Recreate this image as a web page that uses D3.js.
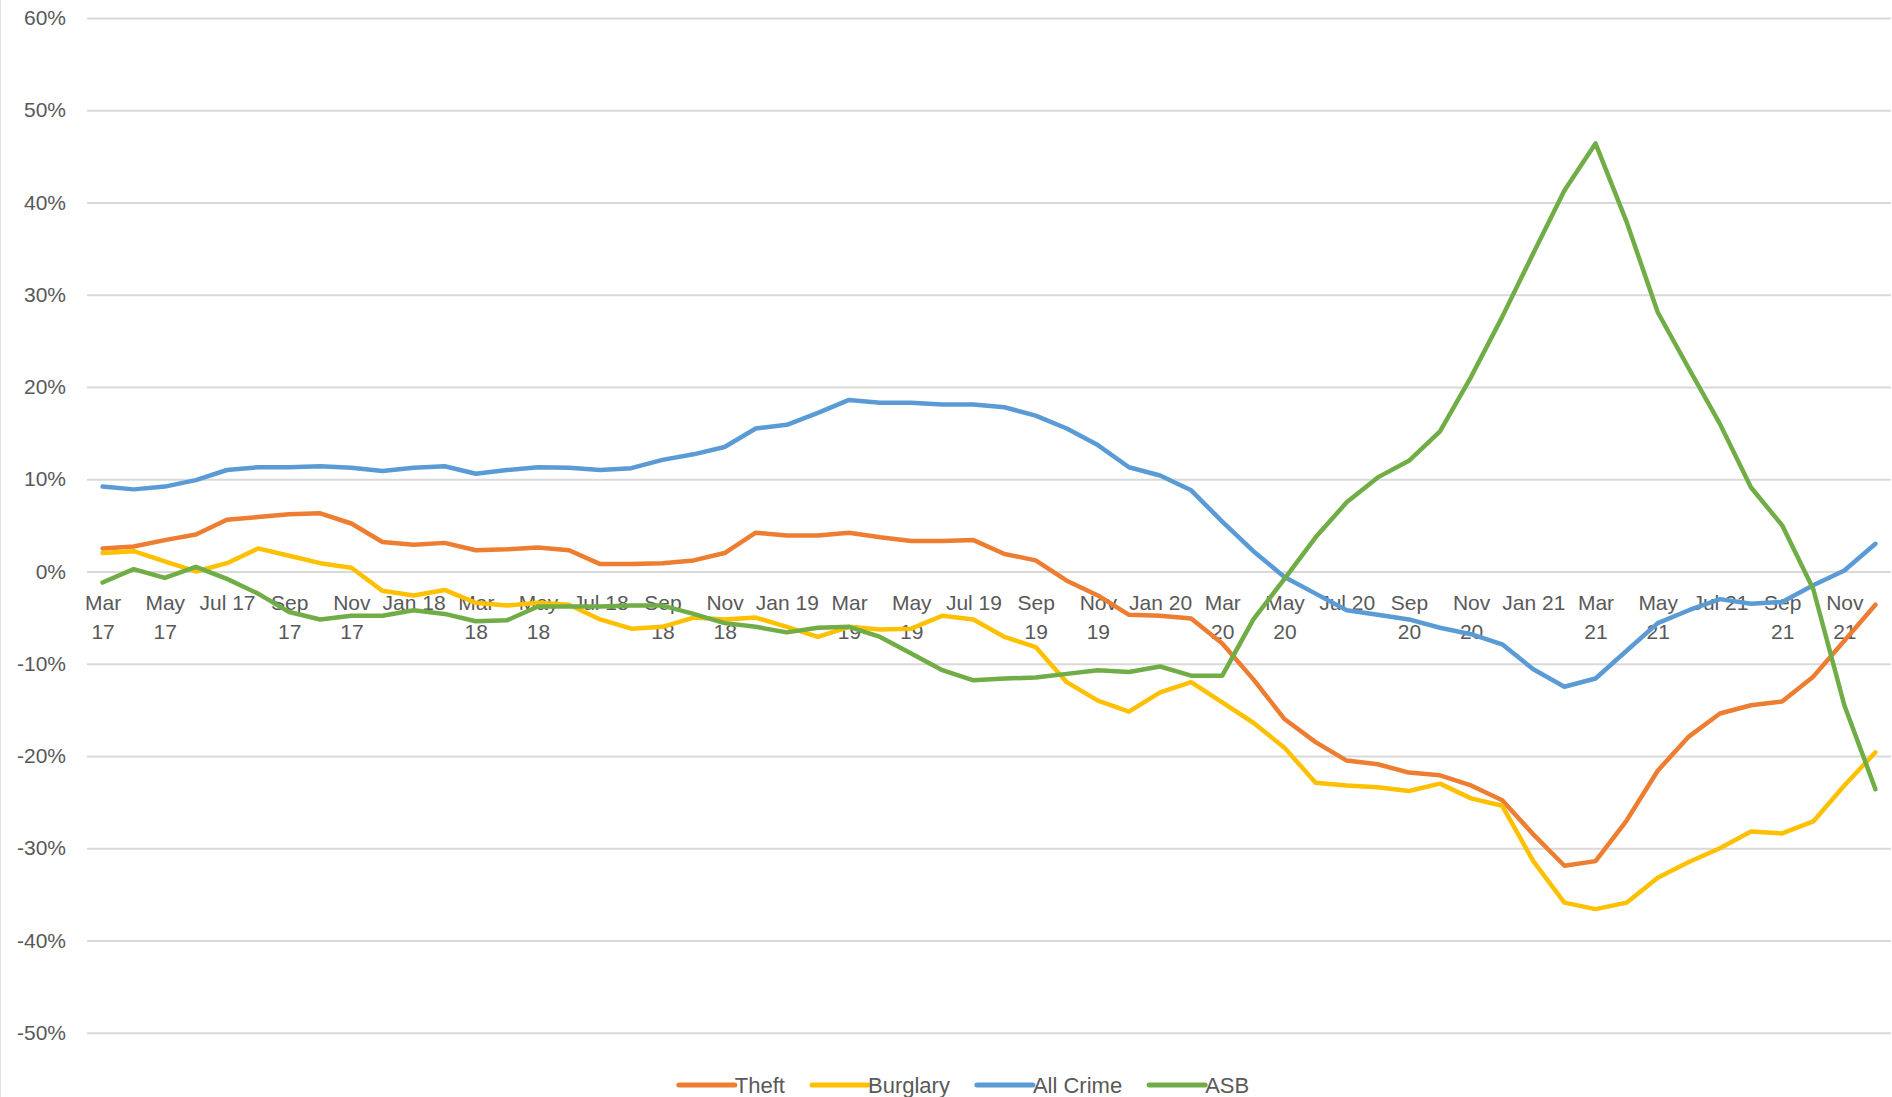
<!DOCTYPE html>
<html>
<head>
<meta charset="utf-8">
<script src="https://cdn.jsdelivr.net/npm/d3@7"></script>
<style>
  html, body { margin: 0; padding: 0; background: #fff; }
  svg { display: block; font-family: "Liberation Sans", Arial, sans-serif; }
</style>
</head>
<body>
<div class="crime-chart"></div>
<script>
// months Mar 2017 - Dec 2021
var months = [
  "Mar 17", "Apr 17", "May 17", "Jun 17", "Jul 17", "Aug 17", "Sep 17", "Oct 17", "Nov 17", "Dec 17",
  "Jan 18", "Feb 18", "Mar 18", "Apr 18", "May 18", "Jun 18", "Jul 18", "Aug 18", "Sep 18", "Oct 18",
  "Nov 18", "Dec 18", "Jan 19", "Feb 19", "Mar 19", "Apr 19", "May 19", "Jun 19", "Jul 19", "Aug 19",
  "Sep 19", "Oct 19", "Nov 19", "Dec 19", "Jan 20", "Feb 20", "Mar 20", "Apr 20", "May 20", "Jun 20",
  "Jul 20", "Aug 20", "Sep 20", "Oct 20", "Nov 20", "Dec 20", "Jan 21", "Feb 21", "Mar 21", "Apr 21",
  "May 21", "Jun 21", "Jul 21", "Aug 21", "Sep 21", "Oct 21", "Nov 21", "Dec 21"
];

// shown every second month, wrapped the way the original wraps them
var tickLabels = [
  "Mar\n17", "May\n17", "Jul 17", "Sep\n17", "Nov\n17", "Jan 18", "Mar\n18", "May\n18", "Jul 18",
  "Sep\n18", "Nov\n18", "Jan 19", "Mar\n19", "May\n19", "Jul 19", "Sep\n19", "Nov\n19", "Jan 20",
  "Mar\n20", "May\n20", "Jul 20", "Sep\n20", "Nov\n20", "Jan 21", "Mar\n21", "May\n21", "Jul 21",
  "Sep\n21", "Nov\n21"
];

var yTicks = [-50, -40, -30, -20, -10, 0, 10, 20, 30, 40, 50, 60];

var theft = [
  2.5, 2.7, 3.4, 4.0, 5.6, 5.9, 6.2, 6.3, 5.2, 3.2,
  2.9, 3.1, 2.3, 2.4, 2.6, 2.3, 0.8, 0.8, 0.9, 1.2,
  2.0, 4.2, 3.9, 3.9, 4.2, 3.7, 3.3, 3.3, 3.4, 1.9,
  1.2, -1.0, -2.6, -4.7, -4.8, -5.1, -7.8, -11.7, -16.0, -18.5,
  -20.5, -20.9, -21.8, -22.1, -23.2, -24.8, -28.5, -31.9, -31.4, -27.0,
  -21.6, -17.9, -15.4, -14.5, -14.1, -11.4, -7.5, -3.6
];

var burglary = [
  2.0, 2.2, 1.1, 0.0, 0.9, 2.5, 1.7, 0.9, 0.4, -2.1,
  -2.6, -2.0, -3.4, -3.7, -3.4, -3.6, -5.2, -6.2, -6.0, -5.0,
  -5.2, -5.0, -6.0, -7.1, -6.0, -6.3, -6.2, -4.8, -5.2, -7.1,
  -8.2, -12.0, -14.0, -15.2, -13.1, -12.0, -14.2, -16.4, -19.1, -22.9,
  -23.2, -23.4, -23.8, -23.0, -24.6, -25.4, -31.4, -35.9, -36.6, -35.9,
  -33.2, -31.5, -30.0, -28.2, -28.4, -27.1, -23.2, -19.6
];

var allCrime = [
  9.2, 8.9, 9.2, 9.9, 11.0, 11.3, 11.3, 11.4, 11.25, 10.9,
  11.25, 11.4, 10.6, 11.0, 11.3, 11.25, 11.0, 11.2, 12.1, 12.7,
  13.5, 15.5, 15.9, 17.2, 18.6, 18.3, 18.3, 18.1, 18.1, 17.8,
  16.9, 15.5, 13.7, 11.3, 10.4, 8.8, 5.4, 2.2, -0.6, -2.4,
  -4.2, -4.7, -5.2, -6.1, -6.8, -7.9, -10.6, -12.5, -11.6, -8.6,
  -5.6, -4.2, -3.0, -3.5, -3.3, -1.5, 0.1, 3.0
];

var asb = [
  -1.2, 0.25, -0.7, 0.5, -0.8, -2.4, -4.4, -5.2, -4.8, -4.8,
  -4.2, -4.6, -5.4, -5.3, -3.8, -3.8, -3.8, -3.7, -3.7, -4.6,
  -5.6, -6.0, -6.6, -6.1, -6.0, -7.1, -8.9, -10.7, -11.8, -11.6,
  -11.5, -11.1, -10.7, -10.9, -10.3, -11.3, -11.3, -5.2, -0.8, 3.7,
  7.5, 10.2, 12.0, 15.2, 21.1, 27.6, 34.5, 41.3, 46.4, 37.9,
  28.1, 22.0, 16.0, 9.1, 5.0, -1.9, -14.5, -23.6
];

var seriesNames = ["Theft", "Burglary", "All Crime", "ASB"];
var seriesValues = [theft, burglary, allCrime, asb];
var seriesColors = ["#ED7D31", "#FFC000", "#5B9BD5", "#70AD47"];

function CrimeChart() {
    var w = 1892;
    var h = 1097;
    var plotLeft = 87, plotRight = 1891;
    var textColor = "#595959";

    var x_scale = d3.scalePoint().domain(months).range([plotLeft, plotRight]).padding(0.5);
    var y_scale = d3.scaleLinear().domain([-50, 60]).range([1032.7, 18]);

    var svg = d3.select(".crime-chart").append("svg")
                .attr("width", w)
                .attr("height", h);

    // thin chart border on the left
    svg.append("line")
        .attr("x1", 0.5).attr("x2", 0.5)
        .attr("y1", 0).attr("y2", h)
        .attr("stroke", "#e3e3e3")
        .attr("stroke-width", 1);

    // gridlines
    var grid = svg.append("g")
        .attr("transform", "translate(" + plotLeft + ",0)")
        .call(d3.axisLeft(y_scale).tickValues(yTicks).tickSize(-(plotRight - plotLeft)).tickFormat(""));
    grid.select(".domain").remove();
    grid.selectAll("line").attr("stroke", "#d9d9d9").attr("stroke-width", 2);

    // y labels
    var yAxis = svg.append("g")
        .attr("transform", "translate(66,0)")
        .call(d3.axisLeft(y_scale).tickValues(yTicks).tickSize(0).tickPadding(0)
              .tickFormat(function(d) { return d + "%"; }));
    yAxis.select(".domain").remove();
    yAxis.selectAll("text")
        .attr("fill", textColor)
        .style("font-size", "21px")
        .style("font-family", "'Liberation Sans', Arial, sans-serif");

    // x labels sit next to the 0% line
    var tickMonths = months.filter(function(d, i) { return i % 2 === 0; });
    var xAxis = svg.append("g")
        .attr("transform", "translate(0," + y_scale(0) + ")")
        .call(d3.axisBottom(x_scale).tickValues(tickMonths).tickSize(0)
              .tickFormat(function(d, i) { return tickLabels[i]; }));
    xAxis.select(".domain").remove();
    xAxis.selectAll("text").each(function() {
        var t = d3.select(this);
        var lines = t.text().split("\n");
        t.text(null).attr("y", 0).attr("dy", null)
         .attr("fill", textColor)
         .style("font-size", "21px")
         .style("font-family", "'Liberation Sans', Arial, sans-serif");
        lines.forEach(function(s, k) {
            t.append("tspan").attr("x", 0).attr("y", 38.5 + k * 29).text(s);
        });
    });

    var line = d3.line()
        .x(function(d, i) { return x_scale(months[i]); })
        .y(function(d) { return y_scale(d); });

    svg.append("g").selectAll("path")
        .data(seriesValues)
        .join("path")
        .attr("d", function(d) { return line(d); })
        .attr("fill", "none")
        .attr("stroke", function(d, i) { return seriesColors[i]; })
        .attr("stroke-width", 4.5)
        .attr("stroke-linejoin", "round")
        .attr("stroke-linecap", "round");

    // legend
    var legend = svg.append("g").attr("transform", "translate(0,1085)");
    var xPos = 0;
    var items = [];
    seriesNames.forEach(function(name, i) {
        var g = legend.append("g");
        g.append("line")
            .attr("x1", 0).attr("x2", 56)
            .attr("y1", 0).attr("y2", 0)
            .attr("stroke", seriesColors[i])
            .attr("stroke-width", 5)
            .attr("stroke-linecap", "round");
        var txt = g.append("text")
            .attr("x", 56).attr("y", 8)
            .attr("fill", textColor)
            .style("font-size", "22px")
            .text(name);
        var wItem = 56 + txt.node().getComputedTextLength();
        g.attr("transform", "translate(" + xPos + ",0)");
        items.push(g);
        xPos += wItem + 27;
    });
    var totalW = xPos - 27;
    legend.attr("transform", "translate(" + (964 - totalW / 2) + ",1085)");
}

CrimeChart();
</script>
</body>
</html>
